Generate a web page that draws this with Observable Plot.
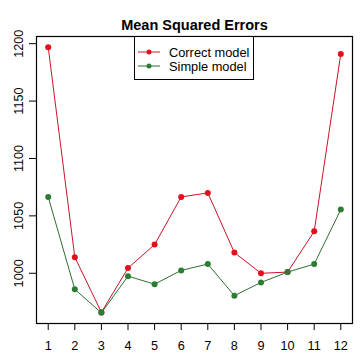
<!DOCTYPE html>
<html>
<head>
<meta charset="utf-8">
<script src="https://cdn.jsdelivr.net/npm/d3@7"></script>
<script src="https://cdn.jsdelivr.net/npm/@observablehq/plot@0.6"></script>
<style>
  html, body { margin: 0; padding: 0; background: #fff; }
  #wrap { position: relative; width: 360px; height: 360px; font-family: "Liberation Sans", Arial, sans-serif; }
  #legend { position: absolute; left: 134px; top: 36px; width: 118px; height: 42px; border: 1px solid #000; background: #fff; font-size: 12.8px; color: #000; }
  .row { position: absolute; left: 0; height: 14px; display: flex; align-items: center; }
  .row svg { margin-left: 3px; }
  .row span { margin-left: 9px; }
</style>
</head>
<body>
<div id="wrap"></div>
<script>
const runs = [1, 2, 3, 4, 5, 6, 7, 8, 9, 10, 11, 12];
const correctModel = [1197, 1014, 966, 1004.5, 1025, 1066.5, 1070, 1018, 1000, 1001, 1036.5, 1191];
const simpleModel = [1066.5, 986, 965.5, 997.5, 990.5, 1002.5, 1008, 980.5, 992, 1001, 1008, 1055.5];
const yTicks = [1000, 1050, 1100, 1150, 1200];
const seriesNames = ["Correct model", "Simple model"];
const seriesColors = ["#e3101c", "#2b7d33"];
const lineColors = ["#c8142a", "#2f6e35"];
const title = "Mean Squared Errors";

const data = [];
runs.forEach((r, i) => {
  data.push({run: r, mse: correctModel[i], series: seriesNames[0]});
  data.push({run: r, mse: simpleModel[i], series: seriesNames[1]});
});

const allVals = correctModel.concat(simpleModel);
const yMin = d3.min(allVals), yMax = d3.max(allVals);
const yPad = (yMax - yMin) * 0.04;
const xPad = (d3.max(runs) - d3.min(runs)) * 0.04;

const chart = Plot.plot({
  width: 360,
  height: 360,
  marginLeft: 36,
  marginRight: 8,
  marginTop: 36,
  marginBottom: 37,
  style: {fontFamily: "Liberation Sans, Arial, sans-serif", fontSize: "12.7px", color: "#000", background: "#fff"},
  x: {domain: [d3.min(runs) - xPad, d3.max(runs) + xPad]},
  y: {domain: [yMin - yPad, yMax + yPad]},
  color: {domain: seriesNames, range: seriesColors},
  marks: [
    Plot.frame({stroke: "#000", strokeWidth: 1.2}),
    Plot.axisX({ticks: runs, tickSize: 7, tickPadding: 10, tickFormat: d => String(d), fontSize: 12.7, label: null, stroke: "#000"}),
    Plot.axisY({ticks: yTicks, tickSize: 7, tickPadding: 7, tickRotate: -90, tickFormat: d => String(d), fontSize: 12.7, label: null, stroke: "#000"}),
    Plot.line(data, {x: "run", y: "mse", z: "series", stroke: d => d.series === seriesNames[0] ? lineColors[0] : lineColors[1], strokeWidth: 1}),
    Plot.dot(data, {x: "run", y: "mse", fill: "series", r: 3}),
    Plot.text([title], {frameAnchor: "top", dy: -17, fontSize: 14.5, fontWeight: "bold", fill: "#000"})
  ]
});

const wrap = document.getElementById("wrap");
wrap.appendChild(chart);

const legend = document.createElement("div");
legend.id = "legend";
seriesNames.forEach((name, i) => {
  const row = document.createElement("div");
  row.className = "row";
  row.style.top = (8 + i * 14) + "px";
  row.innerHTML = `<svg width="22" height="8"><line x1="0" y1="4" x2="22" y2="4" stroke="${lineColors[i]}" stroke-width="1"/><circle cx="11" cy="4" r="2.5" fill="${seriesColors[i]}"/></svg><span>${name}</span>`;
  legend.appendChild(row);
});
wrap.appendChild(legend);
</script>
</body>
</html>
